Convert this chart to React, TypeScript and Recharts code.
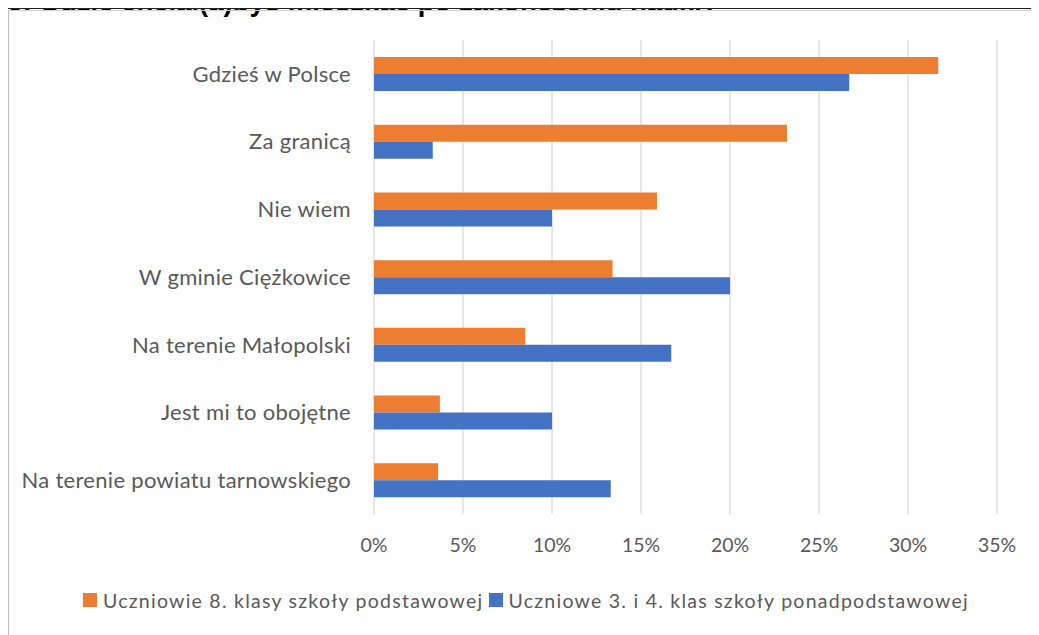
import React from 'react';
import { BarChart, Bar, XAxis, YAxis, CartesianGrid, Legend } from 'recharts';

const categories = [
  'Gdzieś w Polsce',
  'Za granicą',
  'Nie wiem',
  'W gminie Ciężkowice',
  'Na terenie Małopolski',
  'Jest mi to obojętne',
  'Na terenie powiatu tarnowskiego',
];
const primarySchool = [31.7, 23.2, 15.9, 13.4, 8.5, 3.7, 3.6];
const secondarySchool = [26.7, 3.3, 10.0, 20.0, 16.7, 10.0, 13.3];
const xTicks = [0, 5, 10, 15, 20, 25, 30, 35];
const seriesNames = [
  'Uczniowie 8. klasy szkoły podstawowej',
  'Uczniowe 3. i 4. klas szkoły ponadpodstawowej',
];
const seriesColors = ['#ED7D31', '#4472C4'];
const title = '9. Gdzie chciał(a)byś mieszkać po zakończeniu nauki?';

const data = categories.map((c, i) => ({
  name: c,
  a: primarySchool[i],
  b: secondarySchool[i],
}));

const FONT = 'Lato, "Open Sans", sans-serif';
const TEXT = '#595959';

const LegendContent = () => (
  <div
    style={{
      display: 'flex',
      alignItems: 'center',
      paddingLeft: 75,
      height: 24,
      fontFamily: FONT,
      fontSize: 19.5,
      letterSpacing: 1.25,
      color: TEXT,
      whiteSpace: 'nowrap',
    }}
  >
    {seriesNames.map((n, i) => (
      <div key={n} style={{ display: 'flex', alignItems: 'center', marginRight: 5 }}>
        <div style={{ width: 14, height: 14, background: seriesColors[i], marginRight: 6 }} />
        <span>{n}</span>
      </div>
    ))}
  </div>
);

export default function App() {
  return (
    <div style={{ position: 'relative', width: 1031, height: 627 }}>
      <div
        style={{
          position: 'absolute',
          left: 0,
          top: -20,
          fontFamily: '"Liberation Sans", Arial, sans-serif',
          fontWeight: 'bold',
          fontSize: 27.5,
          lineHeight: '27px',
          whiteSpace: 'nowrap',
          color: '#000',
        }}
      >
        {title}
      </div>
      <div
        style={{
          position: 'absolute',
          left: 0,
          top: 0,
          width: 1031,
          height: 1,
          background: '#222',
        }}
      />
      <div
        style={{
          position: 'absolute',
          left: 0,
          top: 2,
          width: 1031,
          height: 625,
          borderTop: '1px solid #d0d0d0',
          borderLeft: '1px solid #bfbfbf',
          boxSizing: 'border-box',
        }}
      />
      <div style={{ position: 'absolute', left: 0, top: 0 }}>
        <BarChart
          width={1031}
          height={627}
          data={data}
          layout="vertical"
          margin={{ top: 32, right: 42, left: 0, bottom: 23 }}
          barGap={0}
        >
          <CartesianGrid horizontal={false} stroke="#d9d9d9" strokeWidth={1.3} />
          <XAxis
            type="number"
            domain={[0, 35]}
            ticks={xTicks}
            tickFormatter={(v) => `${v}%`}
            axisLine={false}
            tickLine={false}
            tickMargin={18}
            height={74}
            interval={0}
            tick={{ fill: TEXT, fontSize: 19.5, fontFamily: FONT }}
          />
          <YAxis
            type="category"
            dataKey="name"
            width={366}
            axisLine={false}
            tickLine={false}
            tickMargin={17}
            interval={0}
            tick={{ fill: TEXT, fontSize: 22, fontFamily: FONT, letterSpacing: 0.3 }}
          />
          <Legend verticalAlign="bottom" content={<LegendContent />} />
          <Bar dataKey="a" name={seriesNames[0]} fill={seriesColors[0]} barSize={17} isAnimationActive={false} />
          <Bar dataKey="b" name={seriesNames[1]} fill={seriesColors[1]} barSize={17} isAnimationActive={false} />
        </BarChart>
      </div>
    </div>
  );
}
